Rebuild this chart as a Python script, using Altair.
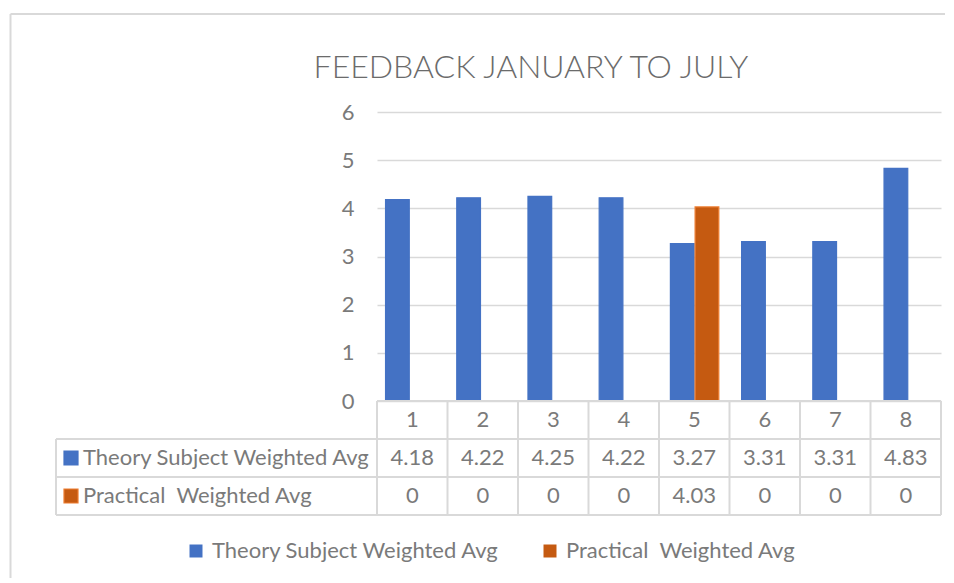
import altair as alt
import pandas as pd

# ---------------- data ----------------
categories = ["1", "2", "3", "4", "5", "6", "7", "8"]
theory = [4.18, 4.22, 4.25, 4.22, 3.27, 3.31, 3.31, 4.83]
practical = [0, 0, 0, 0, 4.03, 0, 0, 0]
series_names = ["Theory Subject Weighted Avg", "Practical\u00a0 Weighted Avg"]
fill_colors = ["#4472C4", "#C55A11"]
edge_colors = ["#4472C4", "#ED7D31"]
y_ticks = [0, 1, 2, 3, 4, 5, 6]
chart_title = "FEEDBACK JANUARY TO JULY"

FONT = "Lato"
TXT = "#7a7a7a"
GRID = "#D9D9D9"
FS = 22
W, H = 564, 289
TH = 114

rows = []
for i, c in enumerate(categories):
    rows.append({"cat": c, "series": series_names[0], "value": theory[i]})
    rows.append({"cat": c, "series": series_names[1], "value": practical[i]})
bars_df = pd.DataFrame(rows)

# ---------------- bar chart ----------------
bars = alt.Chart(bars_df).mark_bar(strokeWidth=1.2).encode(
    x=alt.X("cat:N", sort=categories,
            scale=alt.Scale(paddingInner=0.32, paddingOuter=0.12), axis=None),
    xOffset=alt.XOffset("series:N", sort=series_names,
                        scale=alt.Scale(paddingInner=0.04)),
    y=alt.Y("value:Q", scale=alt.Scale(domain=[0, 6], nice=False),
            axis=alt.Axis(values=y_ticks, grid=True, gridColor=GRID, gridWidth=1.5,
                          domain=False, ticks=False, labelPadding=23,
                          labelFont=FONT, labelFontSize=FS, labelColor=TXT,
                          title=None)),
    color=alt.Color("series:N",
                    scale=alt.Scale(domain=series_names, range=fill_colors),
                    legend=alt.Legend(orient="none", legendX=-192, legendY=428,
                                      direction="horizontal", title=None,
                                      symbolType="square", symbolSize=169,
                                      symbolStrokeWidth=0,
                                      labelFont=FONT, labelFontSize=FS,
                                      labelColor=TXT, columnPadding=39,
                                      labelOffset=5, labelLimit=500)),
    stroke=alt.Stroke("series:N",
                      scale=alt.Scale(domain=series_names, range=edge_colors),
                      legend=None),
)

border_df = pd.DataFrame({"k": [0]})
border_top = alt.Chart(border_df).mark_rule(color=GRID, strokeWidth=2).encode(
    x=alt.value(-366.5), x2=alt.value(568), y=alt.value(-98))
border_left = alt.Chart(border_df).mark_rule(color=GRID, strokeWidth=2).encode(
    x=alt.value(-366.5), y=alt.value(-98), y2=alt.value(466))

title_df = pd.DataFrame({"t": [chart_title]})
title_mark = alt.Chart(title_df).mark_text(
    font=FONT, fontSize=32, fontWeight=300, color="#6b6b6b",
    align="center", baseline="alphabetic").encode(
    x=alt.value(154), y=alt.value(-34), text="t:N")

top = alt.layer(border_top, border_left, title_mark, bars).properties(
    width=W, height=H)

# ---------------- data table ----------------
cell_rows = []
for i, c in enumerate(categories):
    cell_rows.append({"xi": i + 1, "row": 0.5, "label": c})
    cell_rows.append({"xi": i + 1, "row": 1.5, "label": f"{theory[i]:g}"})
    cell_rows.append({"xi": i + 1, "row": 2.5, "label": f"{practical[i]:g}"})
cells_df = pd.DataFrame(cell_rows)

xs = alt.Scale(domain=[0.5, len(categories) + 0.5], nice=False, zero=False)
ys = alt.Scale(domain=[0, 3], nice=False, zero=False, reverse=True)

cells = alt.Chart(cells_df).mark_text(font=FONT, fontSize=FS, color=TXT).encode(
    x=alt.X("xi:Q", scale=xs, axis=None),
    y=alt.Y("row:Q", scale=ys, axis=None),
    text="label:N",
)

rowlab_df = pd.DataFrame({"row": [1.5, 2.5], "name": series_names, "col": fill_colors,
                          "edge": edge_colors})
row_text = alt.Chart(rowlab_df).mark_text(font=FONT, fontSize=FS, color=TXT,
                                          align="left").encode(
    x=alt.value(-294), y=alt.Y("row:Q", scale=ys, axis=None), text="name:N")
row_sq = alt.Chart(rowlab_df).mark_square(size=196, opacity=1, filled=True,
                                          strokeWidth=1.2).encode(
    x=alt.value(-306), y=alt.Y("row:Q", scale=ys, axis=None),
    fill=alt.Fill("col:N", scale=None), stroke=alt.Stroke("edge:N", scale=None))

vlines_df = pd.DataFrame({"xb": [k + 0.5 for k in range(len(categories) + 1)],
                          "y0": 0, "y1": 3})
vlines = alt.Chart(vlines_df).mark_rule(color=GRID, strokeWidth=2).encode(
    x=alt.X("xb:Q", scale=xs, axis=None),
    y=alt.Y("y0:Q", scale=ys, axis=None), y2="y1:Q")

hlines_df = pd.DataFrame({"yb": [1, 2, 3]})
hlines = alt.Chart(hlines_df).mark_rule(color=GRID, strokeWidth=2).encode(
    x=alt.value(-321), x2=alt.value(W), y=alt.Y("yb:Q", scale=ys, axis=None))
top_df = pd.DataFrame({"yb": [0]})
top_line = alt.Chart(top_df).mark_rule(color=GRID, strokeWidth=2).encode(
    x=alt.value(0), x2=alt.value(W), y=alt.Y("yb:Q", scale=ys, axis=None))
left_df = pd.DataFrame({"y0": [1], "y1": [3]})
left_line = alt.Chart(left_df).mark_rule(color=GRID, strokeWidth=2).encode(
    x=alt.value(-321), y=alt.Y("y0:Q", scale=ys, axis=None), y2="y1:Q")

table = alt.layer(vlines, hlines, top_line, left_line, cells, row_sq, row_text
                  ).properties(width=W, height=TH)

chart = alt.vconcat(top, table, spacing=0, bounds="flush").properties(
    padding={"left": 1, "top": 5, "right": 0, "bottom": 0}
).configure_view(stroke=None)

chart.save("out.html", embed_options={"renderer": "svg", "actions": False})
